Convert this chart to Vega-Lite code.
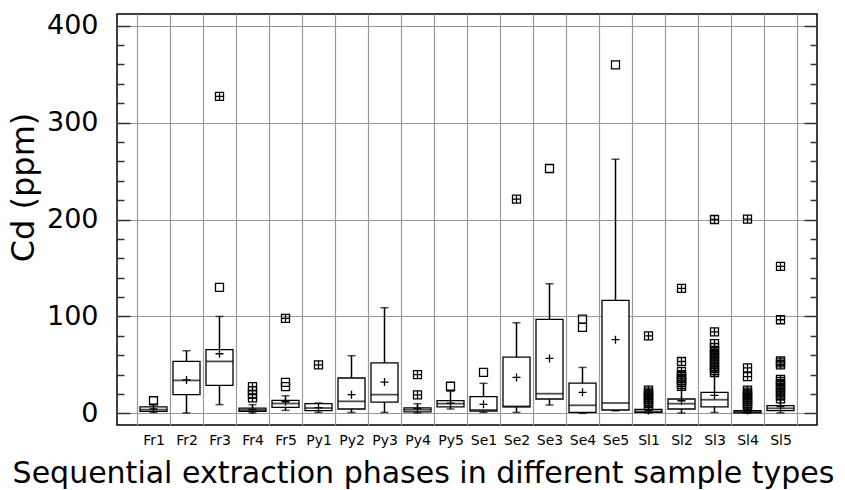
{
  "$schema": "https://vega.github.io/schema/vega-lite/v6.json",
  "width": 700,
  "height": 411,
  "autosize": "none",
  "padding": {"left": 117, "top": 14, "right": 28, "bottom": 65},
  "background": "white",
  "config": {
    "font": "DejaVu Sans",
    "view": {"stroke": "black", "strokeWidth": 1.5}
  },
  "datasets": {
    "stats": [
      {"phase": "Fr1", "lower": 1, "q1": 2.1, "median": 3.8, "q3": 6.6, "upper": 9.7, "mean": 4.5},
      {"phase": "Fr2", "lower": 0.4, "q1": 19.3, "median": 34, "q3": 53.6, "upper": 64.6, "mean": 34.5},
      {"phase": "Fr3", "lower": 9, "q1": 28.9, "median": 53.6, "q3": 65.7, "upper": 100, "mean": 61.5},
      {"phase": "Fr4", "lower": 0.5, "q1": 2.1, "median": 3.5, "q3": 5.4, "upper": 9, "mean": 4},
      {"phase": "Fr5", "lower": 3.1, "q1": 6.2, "median": 10.2, "q3": 13.4, "upper": 18.2, "mean": 12},
      {"phase": "Py1", "lower": 1, "q1": 2.8, "median": 5.5, "q3": 10, "upper": 10.7, "mean": 6},
      {"phase": "Py2", "lower": 1, "q1": 4.5, "median": 12.4, "q3": 36.5, "upper": 59.5, "mean": 19.3},
      {"phase": "Py3", "lower": 1, "q1": 11.7, "median": 19.3, "q3": 52, "upper": 109, "mean": 32.3},
      {"phase": "Py4", "lower": 0.5, "q1": 1.6, "median": 3.8, "q3": 5.6, "upper": 10, "mean": 5},
      {"phase": "Py5", "lower": 4.5, "q1": 6.6, "median": 10, "q3": 13.1, "upper": 22.7, "mean": 10.5},
      {"phase": "Se1", "lower": 1, "q1": 2.4, "median": 3.5, "q3": 17.2, "upper": 31, "mean": 9.3},
      {"phase": "Se2", "lower": 1, "q1": 6.6, "median": 7.2, "q3": 58.1, "upper": 93.5, "mean": 37.1},
      {"phase": "Se3", "lower": 8.6, "q1": 14.8, "median": 20.3, "q3": 96.9, "upper": 133.7, "mean": 56.7},
      {"phase": "Se4", "lower": 0, "q1": 1, "median": 8.3, "q3": 31.3, "upper": 47.4, "mean": 21.7},
      {"phase": "Se5", "lower": 2.6, "q1": 3.5, "median": 10.7, "q3": 116.5, "upper": 262.2, "mean": 76},
      {"phase": "Sl1", "lower": 0.5, "q1": 1, "median": 2, "q3": 4.2, "upper": 7, "mean": 3},
      {"phase": "Sl2", "lower": 0.4, "q1": 4.5, "median": 10, "q3": 14.8, "upper": 27.8, "mean": 13},
      {"phase": "Sl3", "lower": 1, "q1": 6.6, "median": 14.1, "q3": 21.7, "upper": 40, "mean": 18.6},
      {"phase": "Sl4", "lower": 0.2, "q1": 0.5, "median": 1.5, "q3": 2.8, "upper": 5, "mean": 3},
      {"phase": "Sl5", "lower": 0.5, "q1": 2.8, "median": 5.2, "q3": 7.9, "upper": 14, "mean": 7}
    ],
    "outliers": [
      {"phase": "Fr1", "value": 13, "kind": "outside"},
      {"phase": "Fr3", "value": 130, "kind": "outside"},
      {"phase": "Fr3", "value": 327, "kind": "far"},
      {"phase": "Fr4", "value": 16, "kind": "far"},
      {"phase": "Fr4", "value": 19.5, "kind": "far"},
      {"phase": "Fr4", "value": 23.5, "kind": "far"},
      {"phase": "Fr4", "value": 27.5, "kind": "far"},
      {"phase": "Fr5", "value": 27.5, "kind": "outside"},
      {"phase": "Fr5", "value": 32, "kind": "outside"},
      {"phase": "Fr5", "value": 98, "kind": "far"},
      {"phase": "Py1", "value": 50, "kind": "far"},
      {"phase": "Py4", "value": 19, "kind": "far"},
      {"phase": "Py4", "value": 40, "kind": "far"},
      {"phase": "Py5", "value": 28, "kind": "outside"},
      {"phase": "Se1", "value": 42.3, "kind": "outside"},
      {"phase": "Se2", "value": 221, "kind": "far"},
      {"phase": "Se3", "value": 252.6, "kind": "outside"},
      {"phase": "Se4", "value": 88.7, "kind": "outside"},
      {"phase": "Se4", "value": 97.3, "kind": "outside"},
      {"phase": "Se5", "value": 359.5, "kind": "outside"},
      {"phase": "Sl1", "value": 80, "kind": "far"},
      {"phase": "Sl1", "value": 8, "kind": "far"},
      {"phase": "Sl1", "value": 10, "kind": "far"},
      {"phase": "Sl1", "value": 12, "kind": "far"},
      {"phase": "Sl1", "value": 14, "kind": "far"},
      {"phase": "Sl1", "value": 16, "kind": "far"},
      {"phase": "Sl1", "value": 18, "kind": "far"},
      {"phase": "Sl1", "value": 20, "kind": "far"},
      {"phase": "Sl1", "value": 22, "kind": "far"},
      {"phase": "Sl1", "value": 24, "kind": "far"},
      {"phase": "Sl2", "value": 129, "kind": "far"},
      {"phase": "Sl2", "value": 53.5, "kind": "far"},
      {"phase": "Sl2", "value": 28, "kind": "far"},
      {"phase": "Sl2", "value": 30, "kind": "far"},
      {"phase": "Sl2", "value": 32, "kind": "far"},
      {"phase": "Sl2", "value": 34, "kind": "far"},
      {"phase": "Sl2", "value": 36, "kind": "far"},
      {"phase": "Sl2", "value": 38, "kind": "far"},
      {"phase": "Sl2", "value": 40, "kind": "far"},
      {"phase": "Sl2", "value": 43, "kind": "far"},
      {"phase": "Sl3", "value": 200, "kind": "far"},
      {"phase": "Sl3", "value": 84, "kind": "far"},
      {"phase": "Sl3", "value": 72, "kind": "far"},
      {"phase": "Sl3", "value": 68, "kind": "far"},
      {"phase": "Sl3", "value": 65, "kind": "far"},
      {"phase": "Sl3", "value": 62, "kind": "far"},
      {"phase": "Sl3", "value": 59, "kind": "far"},
      {"phase": "Sl3", "value": 56, "kind": "far"},
      {"phase": "Sl3", "value": 53, "kind": "far"},
      {"phase": "Sl3", "value": 50, "kind": "far"},
      {"phase": "Sl3", "value": 47, "kind": "far"},
      {"phase": "Sl3", "value": 44, "kind": "far"},
      {"phase": "Sl3", "value": 42, "kind": "far"},
      {"phase": "Sl4", "value": 200.4, "kind": "far"},
      {"phase": "Sl4", "value": 47, "kind": "far"},
      {"phase": "Sl4", "value": 38, "kind": "far"},
      {"phase": "Sl4", "value": 6, "kind": "far"},
      {"phase": "Sl4", "value": 8, "kind": "far"},
      {"phase": "Sl4", "value": 10, "kind": "far"},
      {"phase": "Sl4", "value": 12, "kind": "far"},
      {"phase": "Sl4", "value": 14, "kind": "far"},
      {"phase": "Sl4", "value": 16, "kind": "far"},
      {"phase": "Sl4", "value": 18, "kind": "far"},
      {"phase": "Sl4", "value": 20, "kind": "far"},
      {"phase": "Sl4", "value": 22, "kind": "far"},
      {"phase": "Sl4", "value": 24, "kind": "far"},
      {"phase": "Sl5", "value": 151.6, "kind": "far"},
      {"phase": "Sl5", "value": 96.6, "kind": "far"},
      {"phase": "Sl5", "value": 54, "kind": "far"},
      {"phase": "Sl5", "value": 52, "kind": "far"},
      {"phase": "Sl5", "value": 50, "kind": "far"},
      {"phase": "Sl5", "value": 15, "kind": "far"},
      {"phase": "Sl5", "value": 18, "kind": "far"},
      {"phase": "Sl5", "value": 21, "kind": "far"},
      {"phase": "Sl5", "value": 24, "kind": "far"},
      {"phase": "Sl5", "value": 27, "kind": "far"},
      {"phase": "Sl5", "value": 30, "kind": "far"},
      {"phase": "Sl5", "value": 33, "kind": "far"},
      {"phase": "Sl5", "value": 35, "kind": "far"}
    ]
  },
  "encoding": {
    "x": {
      "field": "phase",
      "type": "nominal",
      "scale": {
        "type": "band",
        "domain": ["Fr1","Fr2","Fr3","Fr4","Fr5","Py1","Py2","Py3","Py4","Py5","Se1","Se2","Se3","Se4","Se5","Sl1","Sl2","Sl3","Sl4","Sl5"],
        "paddingInner": 0,
        "paddingOuter": 0.606
      },
      "axis": {
        "orient": "bottom",
        "tickBand": "extent",
        "grid": true,
        "gridColor": "#999999",
        "gridWidth": 1.2,
        "ticks": false,
        "domain": false,
        "labelAngle": 0,
        "labelFontSize": 14,
        "labelColor": "black",
        "labelPadding": 8,
        "title": "Sequential extraction phases in different sample types",
        "titleFontSize": 30,
        "titleFontWeight": "normal",
        "titleColor": "black",
        "titlePadding": 11,
        "titleX": 306
      }
    }
  },
  "layer": [
    {
      "data": {"name": "stats"},
      "mark": {"type": "rule", "color": "black", "strokeWidth": 1.5},
      "encoding": {
        "y": {
          "field": "lower", "type": "quantitative",
          "scale": {"domain": [-12, 412], "nice": false, "zero": false},
          "axis": {
            "orient": "right",
            "values": [0,20,40,60,80,100,120,140,160,180,200,220,240,260,280,300,320,340,360,380,400],
            "labels": false,
            "grid": false,
            "domain": false,
            "tickColor": "#333333",
            "tickWidth": 1.5,
            "tickSize": {"condition": {"test": "datum.value % 100 === 0", "value": -13}, "value": -7},
            "title": null
          }
        },
        "y2": {"field": "upper"}
      }
    },
    {
      "data": {"name": "stats"},
      "mark": {"type": "bar", "width": 27, "fill": "white", "stroke": "black", "strokeWidth": 1.3},
      "encoding": {
        "y": {
          "field": "q1", "type": "quantitative",
          "scale": {"domain": [-12, 412], "nice": false, "zero": false},
          "axis": {
            "orient": "left",
            "values": [0,20,40,60,80,100,120,140,160,180,200,220,240,260,280,300,320,340,360,380,400],
            "labelExpr": "datum.value % 100 === 0 ? datum.label : ''",
            "labelFontSize": 27,
            "labelColor": "black",
            "labelPadding": 32,
            "grid": true,
            "gridColor": "#999999",
            "gridWidth": 1.2,
            "gridOpacity": {"condition": {"test": "datum.value % 100 === 0", "value": 1}, "value": 0},
            "domain": false,
            "tickColor": "#333333",
            "tickWidth": 1.5,
            "tickSize": {"condition": {"test": "datum.value % 100 === 0", "value": -13}, "value": -7},
            "title": "Cd (ppm)",
            "titleFontSize": 32,
            "titleFontWeight": "normal",
            "titleColor": "black",
            "titlePadding": 6,
            "titleY": 173
          }
        },
        "y2": {"field": "q3"}
      }
    },
    {
      "data": {"name": "stats"},
      "mark": {"type": "tick", "size": 27, "thickness": 1.8, "color": "black"},
      "encoding": {
        "y": {"field": "median", "type": "quantitative", "scale": {"domain": [-12, 412], "nice": false, "zero": false}, "axis": null}
      }
    },
    {
      "data": {"name": "stats"},
      "mark": {"type": "tick", "size": 8, "thickness": 1.5, "color": "black"},
      "encoding": {
        "y": {"field": "upper", "type": "quantitative", "scale": {"domain": [-12, 412], "nice": false, "zero": false}, "axis": null}
      }
    },
    {
      "data": {"name": "stats"},
      "mark": {"type": "tick", "size": 8, "thickness": 1.5, "color": "black"},
      "encoding": {
        "y": {"field": "lower", "type": "quantitative", "scale": {"domain": [-12, 412], "nice": false, "zero": false}, "axis": null}
      }
    },
    {
      "data": {"name": "stats"},
      "mark": {"type": "point", "shape": "M0,-1V1M-1,0H1", "size": 64, "filled": false, "stroke": "black", "strokeWidth": 1.3, "opacity": 1},
      "encoding": {
        "y": {"field": "mean", "type": "quantitative", "scale": {"domain": [-12, 412], "nice": false, "zero": false}, "axis": null}
      }
    },
    {
      "data": {"name": "outliers"},
      "mark": {"type": "point", "size": 64, "filled": false, "stroke": "black", "strokeWidth": 1.3, "opacity": 1},
      "encoding": {
        "y": {"field": "value", "type": "quantitative", "scale": {"domain": [-12, 412], "nice": false, "zero": false}, "axis": null},
        "shape": {
          "field": "kind", "type": "nominal",
          "scale": {"domain": ["outside", "far"], "range": ["M-1,-1H1V1H-1Z", "M-1,-1H1V1H-1ZM0,-1V1M-1,0H1"]},
          "legend": null
        }
      }
    }
  ],
  "resolve": {"axis": {"y": "independent"}, "scale": {"y": "shared"}}
}
